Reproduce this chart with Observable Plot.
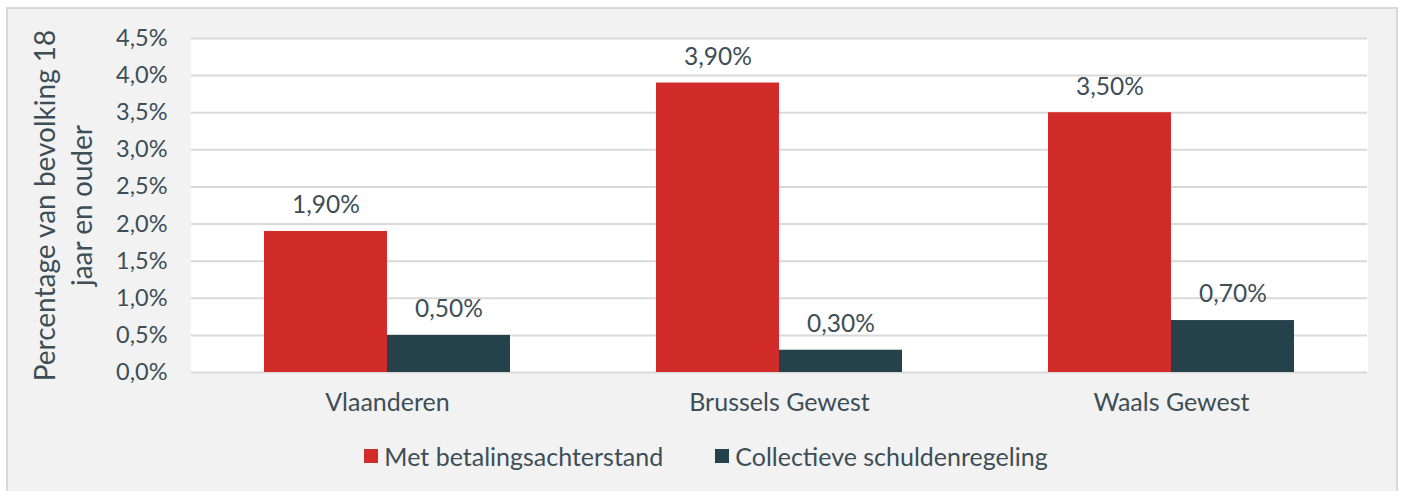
<!DOCTYPE html>
<html>
<head>
<meta charset="utf-8">
<script src="https://cdn.jsdelivr.net/npm/d3@7"></script>
<script src="https://cdn.jsdelivr.net/npm/@observablehq/plot@0.6"></script>
<style>
  html, body { margin: 0; padding: 0; background: #ffffff; }
  #wrap {
    position: absolute; left: 6px; top: 7px;
    width: 1388px; height: 500px;
    border: 2px solid #d9d9d9;
    background: #f2f2f2;
    font-family: Lato, "Open Sans", sans-serif;
    color: #3d4e56;
  }
  #chart svg { display: block; }
  #legend {
    display: flex; justify-content: center; align-items: center;
    gap: 52px; font-size: 25px; line-height: 30px; padding-top: 12px; margin-left: 8px;
  }
  .item { display: flex; align-items: center; gap: 6px; }
  .sw { width: 14px; height: 14px; display: inline-block; }
</style>
</head>
<body>
<div id="wrap">
  <div id="chart"></div>
  <div id="legend"></div>
</div>
<script>
const regions = ["Vlaanderen", "Brussels Gewest", "Waals Gewest"];
const seriesNames = ["Met betalingsachterstand", "Collectieve schuldenregeling"];
const achterstand = [1.9, 3.9, 3.5];
const schuldenregeling = [0.5, 0.3, 0.7];
const yTicks = [0, 0.5, 1, 1.5, 2, 2.5, 3, 3.5, 4, 4.5];
const yLabelLines = ["Percentage van bevolking 18", "jaar en ouder"];
const colors = ["#d12c2a", "#25414a"];
const textColor = "#3d4e56";

const data = regions.flatMap((r, i) => [
  {region: r, series: seriesNames[0], value: achterstand[i]},
  {region: r, series: seriesNames[1], value: schuldenregeling[i]}
]);

const comma = (v, digits) => v.toFixed(digits).replace(".", ",") + "%";

const chart = Plot.plot({
  width: 1388,
  height: 420,
  marginLeft: 182,
  marginRight: 29,
  marginTop: 29,
  marginBottom: 57,
  style: {fontFamily: "Lato, 'Open Sans', sans-serif", fontSize: "24px", color: textColor, background: "transparent", overflow: "visible"},
  fx: {domain: regions, padding: 0, label: null},
  x: {domain: seriesNames, paddingInner: 0, paddingOuter: 0.582, axis: null},
  y: {domain: [0, 4.5], label: null},
  color: {domain: seriesNames, range: colors},
  marks: [
    Plot.frame({fill: "white", stroke: "white", strokeWidth: 1}),
    Plot.gridY(yTicks, {stroke: "#d9d9d9", strokeWidth: 2, strokeOpacity: 1}),
    Plot.barY(data, {fx: "region", x: "series", y: "value", fill: "series", inset: 0}),
    Plot.text(data, {fx: "region", x: "series", y: "value", text: d => comma(d.value, 2), dy: -26, fill: textColor, fontSize: 24.5}),
    Plot.axisY({ticks: yTicks, tickSize: 0, tickPadding: 24, tickFormat: d => comma(d, 1), label: null, fontSize: 23.5}),
    Plot.axisY({ticks: [], label: yLabelLines[0], labelArrow: "none", labelAnchor: "center", labelOffset: 156, fontSize: 28}),
    Plot.axisY({ticks: [], label: yLabelLines[1], labelArrow: "none", labelAnchor: "center", labelOffset: 119, fontSize: 28}),
    Plot.axisFx({anchor: "bottom", tickSize: 0, tickPadding: 21, label: null, fontSize: 25})
  ]
});
document.getElementById("chart").appendChild(chart);

const legend = document.getElementById("legend");
seriesNames.forEach((name, i) => {
  const item = document.createElement("div");
  item.className = "item";
  const sw = document.createElement("span");
  sw.className = "sw";
  sw.style.background = colors[i];
  const label = document.createElement("span");
  label.textContent = name;
  item.appendChild(sw);
  item.appendChild(label);
  legend.appendChild(item);
});
</script>
</body>
</html>
